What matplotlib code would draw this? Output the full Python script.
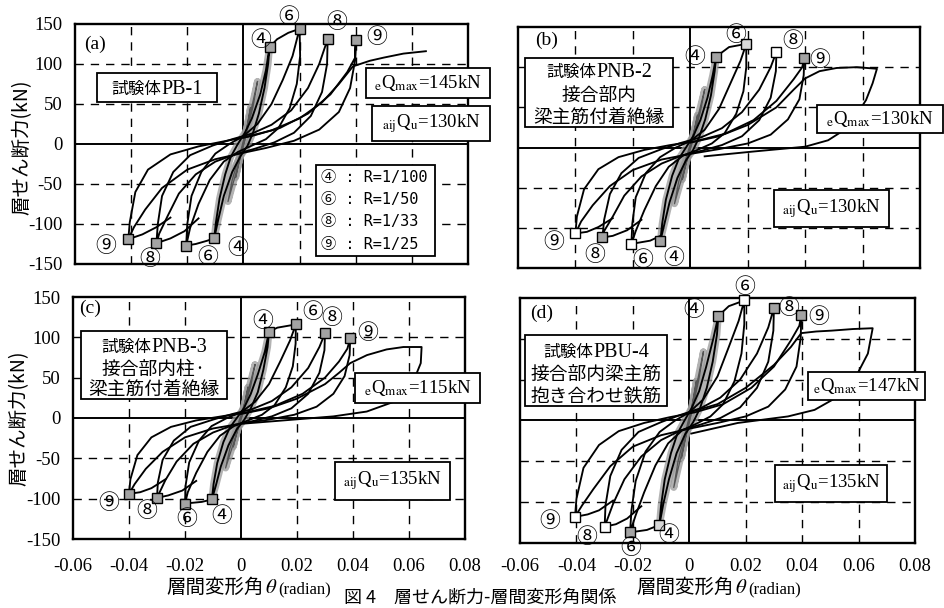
import matplotlib
matplotlib.use("Agg")
import matplotlib.pyplot as plt
from matplotlib.patches import Rectangle

# ---- 軸 ----
XTICKS = [-0.06, -0.04, -0.02, 0, 0.02, 0.04, 0.06, 0.08]
XTICK_LABELS = ["-0.06", "-0.04", "-0.02", "0", "0.02", "0.04", "0.06", "0.08"]
YTICKS = [-150, -100, -50, 0, 50, 100, 150]
YTICK_LABELS = ["-150", "-100", "-50", "0", "50", "100", "150"]
CYCLES = ["④", "⑥", "⑧", "⑨"]
R_LABELS = ["R=1/100", "R=1/50", "R=1/33", "R=1/25"]

# ---- (a) 試験体PB-1  (radian, kN) ----
PB1_POS_PEAK = [(0.0093, 121), (0.020, 144), (0.030, 131), (0.040, 130)]
PB1_NEG_PEAK = [(-0.0104, -118), (-0.0204, -127), (-0.031, -124), (-0.041, -119)]
PB1_SMALL1 = [(0.0025, 45), (0.0012, 20), (-0.0005, -5), (-0.0028, -42), (-0.0015, -22), (0.0005, 5), (0.0025, 45)]
PB1_SMALL2 = [(0.005, 78), (0.0035, 48), (0.001, 12), (-0.002, -28), (-0.0055, -72), (-0.004, -45),
              (-0.0012, -12), (0.0018, 28), (0.005, 78)]
PB1_C4 = [(0.0093, 121), (0.0088, 100), (0.0075, 70), (0.0055, 38), (0.0035, 15), (0.0015, -2), (-0.001, -15),
          (-0.004, -35), (-0.007, -65), (-0.009, -95), (-0.0104, -118), (-0.0098, -98), (-0.0085, -68),
          (-0.0065, -38), (-0.0045, -16), (-0.002, 0), (0.0005, 14), (0.003, 32), (0.006, 62), (0.008, 92),
          (0.0093, 121)]
PB1_C6 = [(0.020, 144), (0.0202, 110), (0.019, 75), (0.0165, 45), (0.0125, 20), (0.008, 6), (0.003, -2),
          (-0.002, -10), (-0.007, -22), (-0.012, -45), (-0.016, -75), (-0.019, -105), (-0.0204, -127),
          (-0.020, -100), (-0.0185, -65), (-0.015, -35), (-0.010, -12), (-0.005, 0), (0.0, 10), (0.005, 25),
          (0.010, 50), (0.014, 80), (0.0175, 110), (0.020, 144)]
PB1_C8 = [(0.030, 131), (0.0298, 100), (0.028, 65), (0.024, 35), (0.018, 14), (0.011, 2), (0.004, -6),
          (-0.003, -13), (-0.010, -22), (-0.017, -38), (-0.023, -62), (-0.027, -90), (-0.030, -112),
          (-0.031, -124), (-0.0305, -100), (-0.029, -65), (-0.025, -35), (-0.019, -14), (-0.011, -2),
          (-0.004, 6), (0.003, 13), (0.010, 24), (0.017, 42), (0.023, 70), (0.027, 100), (0.030, 131)]
PB1_C9 = [(0.040, 130), (0.0398, 105), (0.038, 70), (0.034, 40), (0.027, 18), (0.018, 4), (0.008, -5),
          (0.0, -11), (-0.010, -19), (-0.020, -32), (-0.029, -55), (-0.035, -82), (-0.039, -104),
          (-0.041, -119), (-0.0405, -98), (-0.0385, -60), (-0.034, -32), (-0.026, -13), (-0.016, -3),
          (-0.006, 4), (0.003, 10), (0.013, 20), (0.023, 38), (0.031, 62), (0.037, 90), (0.0398, 108),
          (0.040, 130)]
PB1_ENV = [[(0.0093, 121), (0.012, 131), (0.016, 139), (0.020, 144)],
           [(-0.0104, -118), (-0.013, -121), (-0.017, -125), (-0.0204, -127)],
           [(-0.016, -93), (-0.021, -109), (-0.026, -118), (-0.031, -124)],
           [(-0.026, -92), (-0.031, -104), (-0.036, -113), (-0.041, -119)]]
PB1_FINAL = [(0.0, 8), (0.010, 17), (0.020, 32), (0.028, 52), (0.034, 75), (0.039, 97), (0.045, 104),
             (0.050, 108), (0.057, 113), (0.065, 116)]

# ---- (b) 試験体PNB-2 ----
PNB2_POS_PEAK = [(0.009, 113), (0.0195, 129), (0.030, 119), (0.0397, 112)]
PNB2_NEG_PEAK = [(-0.0104, -116), (-0.0205, -120), (-0.0306, -112), (-0.040, -107)]
PNB2_SMALL1 = [(0.0025, 40), (0.0012, 18), (-0.0005, -5), (-0.0028, -40), (-0.0015, -20), (0.0005, 5), (0.0025, 40)]
PNB2_SMALL2 = [(0.005, 72), (0.0035, 44), (0.001, 10), (-0.002, -26), (-0.0055, -70), (-0.004, -42),
               (-0.0012, -10), (0.0018, 26), (0.005, 72)]
PNB2_C4 = [(0.009, 113), (0.0085, 95), (0.0072, 65), (0.0052, 35), (0.003, 12), (0.001, -3), (-0.0015, -16),
           (-0.0045, -38), (-0.0072, -68), (-0.009, -95), (-0.0104, -116), (-0.0098, -95), (-0.0085, -65),
           (-0.0063, -35), (-0.004, -14), (-0.0015, 0), (0.001, 14), (0.0035, 34), (0.006, 62), (0.0078, 90),
           (0.009, 113)]
PNB2_C6 = [(0.0195, 129), (0.0195, 100), (0.0185, 70), (0.016, 42), (0.012, 18), (0.0075, 5), (0.0025, -3),
           (-0.0025, -10), (-0.0075, -24), (-0.012, -48), (-0.016, -78), (-0.019, -104), (-0.0205, -120),
           (-0.0202, -95), (-0.019, -62), (-0.0155, -32), (-0.0105, -12), (-0.005, 0), (0.0, 8), (0.005, 22),
           (0.010, 48), (0.014, 80), (0.0175, 108), (0.0195, 129)]
PNB2_C8 = [(0.030, 119), (0.0298, 95), (0.028, 62), (0.024, 34), (0.018, 14), (0.011, 3), (0.004, -4),
           (-0.003, -10), (-0.010, -20), (-0.017, -36), (-0.023, -60), (-0.027, -86), (-0.030, -104),
           (-0.0306, -112), (-0.030, -90), (-0.028, -58), (-0.024, -32), (-0.018, -13), (-0.010, -2),
           (-0.003, 6), (0.004, 13), (0.011, 24), (0.018, 44), (0.024, 72), (0.028, 100), (0.030, 119)]
PNB2_C9 = [(0.0397, 112), (0.0395, 90), (0.038, 60), (0.034, 35), (0.028, 16), (0.020, 5), (0.010, -2),
           (0.0, -8), (-0.010, -15), (-0.020, -28), (-0.028, -48), (-0.034, -72), (-0.038, -92), (-0.040, -107),
           (-0.0395, -86), (-0.037, -52), (-0.032, -27), (-0.025, -12), (-0.016, -3), (-0.007, 3), (0.002, 8),
           (0.012, 17), (0.022, 34), (0.030, 58), (0.036, 85), (0.039, 100), (0.0397, 112)]
PNB2_ENV = [[(0.009, 113), (0.0135, 125), (0.0195, 129)],
            [(-0.0104, -110), (-0.014, -116), (-0.0205, -120)],
            [(-0.017, -90), (-0.022, -103), (-0.027, -110), (-0.0306, -112)],
            [(-0.027, -88), (-0.032, -99), (-0.036, -105), (-0.040, -107)]]
PNB2_FINAL = [(0.0, 6), (0.010, 14), (0.020, 28), (0.030, 50), (0.036, 72), (0.040, 86), (0.045, 95),
              (0.051, 99), (0.058, 100), (0.065, 98), (0.0635, 80), (0.0612, 59), (0.0583, 43), (0.0537, 22),
              (0.048, 9), (0.040, 1), (0.022, -5), (0.005, -11)]

# ---- (c) 試験体PNB-3 ----
PNB3_POS_PEAK = [(0.010, 107), (0.0196, 116), (0.030, 105), (0.039, 99)]
PNB3_NEG_PEAK = [(-0.0104, -101), (-0.020, -106), (-0.030, -99), (-0.040, -94)]
PNB3_SMALL1 = [(0.0025, 38), (0.0012, 16), (-0.0005, -5), (-0.0028, -36), (-0.0015, -18), (0.0005, 5), (0.0025, 38)]
PNB3_SMALL2 = [(0.005, 66), (0.0035, 40), (0.001, 9), (-0.002, -24), (-0.0055, -62), (-0.004, -38),
               (-0.0012, -9), (0.0018, 24), (0.005, 66)]
PNB3_C4 = [(0.010, 107), (0.0095, 88), (0.008, 60), (0.006, 32), (0.0035, 12), (0.0012, -2), (-0.0015, -14),
           (-0.0045, -34), (-0.0072, -60), (-0.009, -84), (-0.0104, -101), (-0.0098, -82), (-0.0085, -56),
           (-0.0063, -30), (-0.004, -12), (-0.0015, 0), (0.001, 12), (0.0035, 30), (0.006, 54), (0.0085, 82),
           (0.010, 107)]
PNB3_C6 = [(0.0196, 116), (0.0195, 92), (0.0185, 64), (0.016, 38), (0.012, 16), (0.0075, 4), (0.0025, -3),
           (-0.0025, -10), (-0.0075, -22), (-0.012, -42), (-0.016, -68), (-0.019, -92), (-0.020, -106),
           (-0.0198, -84), (-0.0185, -55), (-0.015, -28), (-0.0105, -10), (-0.005, 0), (0.0, 7), (0.005, 20),
           (0.010, 42), (0.014, 70), (0.0175, 96), (0.0196, 116)]
PNB3_C8 = [(0.030, 105), (0.0298, 84), (0.028, 56), (0.024, 30), (0.018, 12), (0.011, 2), (0.004, -4),
           (-0.003, -9), (-0.010, -18), (-0.017, -32), (-0.023, -54), (-0.027, -77), (-0.030, -99),
           (-0.0297, -80), (-0.028, -52), (-0.024, -28), (-0.018, -11), (-0.010, -2), (-0.003, 5), (0.004, 11),
           (0.011, 21), (0.018, 38), (0.024, 62), (0.028, 88), (0.030, 105)]
PNB3_C9 = [(0.039, 99), (0.0388, 78), (0.037, 52), (0.033, 30), (0.027, 14), (0.019, 4), (0.010, -2),
           (0.0, -7), (-0.010, -13), (-0.020, -24), (-0.028, -42), (-0.034, -63), (-0.038, -82), (-0.040, -94),
           (-0.0395, -76), (-0.037, -46), (-0.032, -24), (-0.025, -11), (-0.016, -3), (-0.007, 2), (0.002, 7),
           (0.012, 15), (0.022, 30), (0.030, 50), (0.035, 70), (0.038, 86), (0.039, 99)]
PNB3_ENV = [[(0.010, 107), (0.013, 112), (0.0196, 116)],
            [(-0.0104, -101), (-0.014, -104), (-0.020, -106)],
            [(-0.016, -78), (-0.021, -90), (-0.026, -96), (-0.030, -99)],
            [(-0.027, -76), (-0.032, -87), (-0.036, -92), (-0.040, -94)]]
PNB3_FINAL = [(0.0, 5), (0.010, 12), (0.020, 24), (0.030, 42), (0.035, 56), (0.039, 68), (0.045, 78),
              (0.052, 85), (0.058, 88), (0.0645, 88), (0.0642, 68), (0.0615, 45), (0.0545, 20), (0.0449, 8),
              (0.033, 2), (0.0151, -3), (0.0008, -7)]

# ---- (d) 試験体PBU-4 ----
PBU4_POS_PEAK = [(0.0103, 128), (0.0195, 147), (0.030, 138), (0.0397, 129)]
PBU4_NEG_PEAK = [(-0.0106, -128), (-0.021, -137), (-0.030, -130), (-0.0405, -118)]
PBU4_SMALL1 = [(0.0025, 48), (0.0012, 22), (-0.0005, -6), (-0.0028, -46), (-0.0015, -24), (0.0005, 6), (0.0025, 48)]
PBU4_SMALL2 = [(0.005, 84), (0.0035, 52), (0.001, 12), (-0.002, -30), (-0.0055, -82), (-0.004, -50),
               (-0.0012, -12), (0.0018, 30), (0.005, 84)]
PBU4_C4 = [(0.0103, 128), (0.0098, 105), (0.0083, 72), (0.0062, 40), (0.0038, 15), (0.0014, -2), (-0.0015, -17),
           (-0.0045, -40), (-0.0072, -72), (-0.0092, -102), (-0.0106, -128), (-0.0100, -104), (-0.0087, -72),
           (-0.0065, -40), (-0.0042, -16), (-0.0017, 0), (0.0008, 15), (0.0035, 36), (0.006, 66), (0.0085, 100),
           (0.0103, 128)]
PBU4_C6 = [(0.0195, 147), (0.0195, 118), (0.0185, 82), (0.016, 48), (0.012, 20), (0.0075, 5), (0.0025, -4),
           (-0.0025, -12), (-0.0075, -28), (-0.012, -55), (-0.016, -88), (-0.019, -116), (-0.021, -137),
           (-0.0205, -110), (-0.019, -74), (-0.0155, -38), (-0.0105, -14), (-0.005, 0), (0.0, 10), (0.005, 26),
           (0.010, 54), (0.014, 90), (0.0175, 122), (0.0195, 147)]
PBU4_C8 = [(0.030, 138), (0.0298, 110), (0.028, 72), (0.024, 40), (0.018, 16), (0.011, 3), (0.004, -5),
           (-0.003, -12), (-0.010, -24), (-0.017, -44), (-0.023, -72), (-0.027, -102), (-0.030, -130),
           (-0.0297, -104), (-0.028, -68), (-0.024, -36), (-0.018, -14), (-0.010, -2), (-0.003, 7), (0.004, 15),
           (0.011, 28), (0.018, 50), (0.024, 82), (0.028, 114), (0.030, 138)]
PBU4_C9 = [(0.0397, 129), (0.0395, 102), (0.038, 66), (0.034, 38), (0.028, 17), (0.020, 5), (0.010, -3),
           (0.0, -10), (-0.010, -18), (-0.020, -32), (-0.028, -56), (-0.034, -84), (-0.038, -104),
           (-0.0405, -118), (-0.040, -96), (-0.0375, -58), (-0.032, -30), (-0.025, -13), (-0.016, -3),
           (-0.007, 4), (0.002, 10), (0.012, 20), (0.022, 40), (0.030, 66), (0.036, 98), (0.039, 116),
           (0.0397, 129)]
PBU4_ENV = [[(0.0103, 128), (0.014, 140), (0.0195, 147)],
            [(-0.0106, -128), (-0.015, -134), (-0.021, -137)],
            [(-0.017, -105), (-0.022, -120), (-0.026, -127), (-0.030, -130)],
            [(-0.027, -98), (-0.032, -110), (-0.036, -115), (-0.0405, -118)]]
PBU4_FINAL = [(0.0, 10), (0.010, 20), (0.020, 40), (0.030, 68), (0.036, 90), (0.0397, 107), (0.045, 109),
              (0.0503, 110), (0.058, 112), (0.065, 113), (0.0633, 82), (0.0597, 58), (0.0526, 29),
              (0.0444, 13), (0.035, 5), (0.0172, -3), (0.0007, -16)]

QMAX = ["145", "130", "115", "147"]
QU = ["130", "130", "135", "135"]

# ---- 描画 ----
plt.rcParams["font.family"] = ["Liberation Serif", "Noto Sans CJK JP", "DejaVu Sans"]
plt.rcParams["mathtext.fontset"] = "stix"

FW, FH = 945, 608
fig = plt.figure(figsize=(FW / 100, FH / 100), dpi=100)
CJK = ["Noto Sans CJK JP", "DejaVu Sans"]
SERIF = ["Liberation Serif", "Noto Sans CJK JP"]


def fx(p):
    return p / FW


def fy(p):
    return 1 - p / FH


def box(x0, y0, x1, y1):
    fig.add_artist(Rectangle((fx(x0), fy(y1)), (x1 - x0) / FW, (y1 - y0) / FH,
                             transform=fig.transFigure, fc="white", ec="k", lw=1.3, zorder=5))


def rich(xc, yb, pieces, gap=0):
    # 横に並べる (text, size, family)
    r = fig.canvas.get_renderer()
    ts, ws = [], []
    for s, size, fam in pieces:
        t = fig.text(0, fy(yb), s, fontsize=size, family=fam, ha="left", va="baseline", zorder=6)
        ts.append(t)
        ws.append(t.get_window_extent(r).width + gap)
    x = xc - sum(ws) / 2
    for t, w in zip(ts, ws):
        t.set_x(fx(x))
        x += w


GRAY, LIGHT, W = "#a3a3a3", "#d8d8d8", "white"

panels = [
    dict(tag="(a)", rect=(75, 24, 468, 264), tagpos=(95, 44),
         pos=PB1_POS_PEAK, neg=PB1_NEG_PEAK, small=[PB1_SMALL1, PB1_SMALL2],
         loops=[PB1_C4, PB1_C6, PB1_C8, PB1_C9], env=PB1_ENV, final=PB1_FINAL,
         pfill=[GRAY, GRAY, GRAY, GRAY], nfill=[GRAY, GRAY, GRAY, GRAY],
         poff=[(-9, 7), (-11, 12), (9, 17), (21, 3)], noff=[(24, -10), (22, -11), (-7, -16), (-23, -7)],
         qbox=(366, 68, 490, 98), ubox=(372, 106, 490, 141), xl=False, yl=True, pad=15),
    dict(tag="(b)", rect=(518, 27, 920, 268), tagpos=(547, 40),
         pos=PNB2_POS_PEAK, neg=PNB2_NEG_PEAK, small=[PNB2_SMALL1, PNB2_SMALL2],
         loops=[PNB2_C4, PNB2_C6, PNB2_C8, PNB2_C9], env=PNB2_ENV, final=PNB2_FINAL,
         pfill=[GRAY, LIGHT, W, GRAY], nfill=[GRAY, W, GRAY, W],
         poff=[(-21, 0), (-11, 9), (16, 11), (15, -2)], noff=[(13, -17), (11, -16), (-8, -18), (-22, -9)],
         qbox=(817, 105, 943, 133), ubox=(774, 190, 889, 227), xl=False, yl=False, pad=15),
    dict(tag="(c)", rect=(73, 297, 465, 539), tagpos=(90, 308),
         pos=PNB3_POS_PEAK, neg=PNB3_NEG_PEAK, small=[PNB3_SMALL1, PNB3_SMALL2],
         loops=[PNB3_C4, PNB3_C6, PNB3_C8, PNB3_C9], env=PNB3_ENV, final=PNB3_FINAL,
         pfill=[GRAY, GRAY, GRAY, GRAY], nfill=[GRAY, GRAY, GRAY, GRAY],
         poff=[(-6, 11), (17, 12), (7, 15), (18, 5)], noff=[(10, -17), (2, -15), (-10, -13), (-20, -9)],
         qbox=(355, 373, 480, 403), ubox=(335, 462, 450, 500), xl=True, yl=True, pad=14),
    dict(tag="(d)", rect=(520, 298, 915, 543), tagpos=(542, 313),
         pos=PBU4_POS_PEAK, neg=PBU4_NEG_PEAK, small=[PBU4_SMALL1, PBU4_SMALL2],
         loops=[PBU4_C4, PBU4_C6, PBU4_C8, PBU4_C9], env=PBU4_ENV, final=PBU4_FINAL,
         pfill=[GRAY, W, GRAY, GRAY], nfill=[LIGHT, GRAY, W, W],
         poff=[(-25, 6), (0, 13), (15, 0), (17, -2)], noff=[(9, -10), (1, -16), (-18, -10), (-25, -4)],
         qbox=(808, 372, 925, 400), ubox=(775, 465, 887, 502), xl=True, yl=False, pad=11),
]

for i, p in enumerate(panels):
    l, t, r, b = p["rect"]
    ax = fig.add_axes([fx(l), fy(b), (r - l) / FW, (b - t) / FH])
    ax.set_xlim(-0.06, 0.08)
    ax.set_ylim(-150, 150)
    ax.set_xticks(XTICKS)
    ax.set_xticklabels(XTICK_LABELS)
    ax.set_yticks(YTICKS)
    ax.set_yticklabels(YTICK_LABELS)
    ax.tick_params(length=0, labelsize=13.5)
    ax.tick_params(axis="x", pad=p["pad"], labelbottom=p["xl"])
    ax.tick_params(axis="y", pad=9, labelleft=p["yl"])
    for s in ax.spines.values():
        s.set_linewidth(1.7)
    for v in XTICKS[1:-1]:
        if v != 0:
            ax.axvline(v, color="k", lw=1.0, ls=(0, (6, 5)), zorder=1)
    for v in YTICKS[1:-1]:
        if v != 0:
            ax.axhline(v, color="k", lw=1.0, ls=(0, (6, 5)), zorder=1)
    ax.axvline(0, color="k", lw=1.4, zorder=1)
    ax.axhline(0, color="k", lw=1.4, zorder=1)

    # 小振幅のループ (灰色の帯)
    for lp in p["small"] + [p["loops"][0]]:
        xs, ys = zip(*lp)
        ax.plot(xs, ys, color="#9a9a9a", lw=5, alpha=0.75, solid_capstyle="round", zorder=2)
    for lp in p["small"]:
        xs, ys = zip(*lp)
        ax.plot(xs, ys, color="#555555", lw=0.9, zorder=3)
    for lp in p["loops"] + p["env"] + [p["final"]]:
        xs, ys = zip(*lp)
        ax.plot(xs, ys, color="k", lw=1.35, zorder=3)

    # ピーク
    for peaks, fills, offs in ((p["pos"], p["pfill"], p["poff"]), (p["neg"], p["nfill"], p["noff"])):
        for (x, y), fc, (dx, dy), lab in zip(peaks, fills, offs, CYCLES):
            ax.plot(x, y, marker="s", ms=7, mfc=fc, mec="k", mew=1.0, ls="none", zorder=4, clip_on=False)
            ax.annotate(lab, (x, y), xytext=(dx, dy), textcoords="offset pixels", ha="center", va="center",
                        fontsize=15, family=CJK, annotation_clip=False, zorder=6)

    fig.text(fx(p["tagpos"][0]), fy(p["tagpos"][1]), p["tag"], fontsize=14, family=SERIF,
             ha="center", va="center", zorder=6)

    q0, q1, q2, q3 = p["qbox"]
    box(q0, q1, q2, q3)
    fig.text(fx((q0 + q2) / 2), fy((q1 + q3) / 2), r"$_{\mathrm{e}}$Q$_{\mathrm{max}}$=" + QMAX[i] + "kN",
             fontsize=13.5, family=SERIF, ha="center", va="center", zorder=6)
    u0, u1, u2, u3 = p["ubox"]
    box(u0, u1, u2, u3)
    fig.text(fx((u0 + u2) / 2), fy((u1 + u3) / 2), r"$_{\mathrm{aij}}$Q$_{\mathrm{u}}$=" + QU[i] + "kN",
             fontsize=13.5, family=SERIF, ha="center", va="center", zorder=6)

# 試験体の説明
box(97, 73, 217, 102)
rich(157, 94, [("試験体", 12, CJK), ("PB-1", 14.5, SERIF)])

box(525, 58, 673, 127)
rich(599, 77, [("試験体", 12, CJK), ("PNB-2", 14.5, SERIF)])
rich(599, 101, [("接合部内", 13.5, CJK)])
rich(599, 123, [("梁主筋付着絶縁", 13.5, CJK)])

box(81, 331, 227, 399)
rich(154, 352, [("試験体", 12, CJK), ("PNB-3", 14.5, SERIF)])
rich(154, 375, [("接合部内柱·", 13.5, CJK)])
rich(154, 395, [("梁主筋付着絶縁", 13.5, CJK)])

box(525, 335, 667, 406)
rich(596, 357, [("試験体", 12, CJK), ("PBU-4", 14.5, SERIF)])
rich(596, 380, [("接合部内梁主筋", 13.5, CJK)])
rich(596, 402, [("抱き合わせ鉄筋", 13.5, CJK)])

# 凡例
box(316, 165, 435, 256)
for k, (c, rl) in enumerate(zip(CYCLES, R_LABELS)):
    fig.text(fx(321), fy(177 + k * 22.5), c + " : " + rl, fontsize=11,
             family=["DejaVu Sans Mono", "Noto Sans CJK JP"], ha="left", va="center", zorder=6)

# 軸ラベル
for yc, xc in ((147, 22), (418, 19)):
    fig.text(fx(xc), fy(yc), "層せん断力(kN)", rotation=90, fontsize=14, family=CJK,
             ha="center", va="center")
for xc in (249, 719):
    rich(xc, 593, [("層間変形角", 14, CJK), (r"$\theta$", 15, SERIF), ("(radian)", 12, SERIF)], gap=1)

fig.text(fx(480), fy(607), "図 4　層せん断力-層間変形角関係", fontsize=13, family=CJK, ha="center", va="bottom")

fig.savefig("out.png", dpi=100)
